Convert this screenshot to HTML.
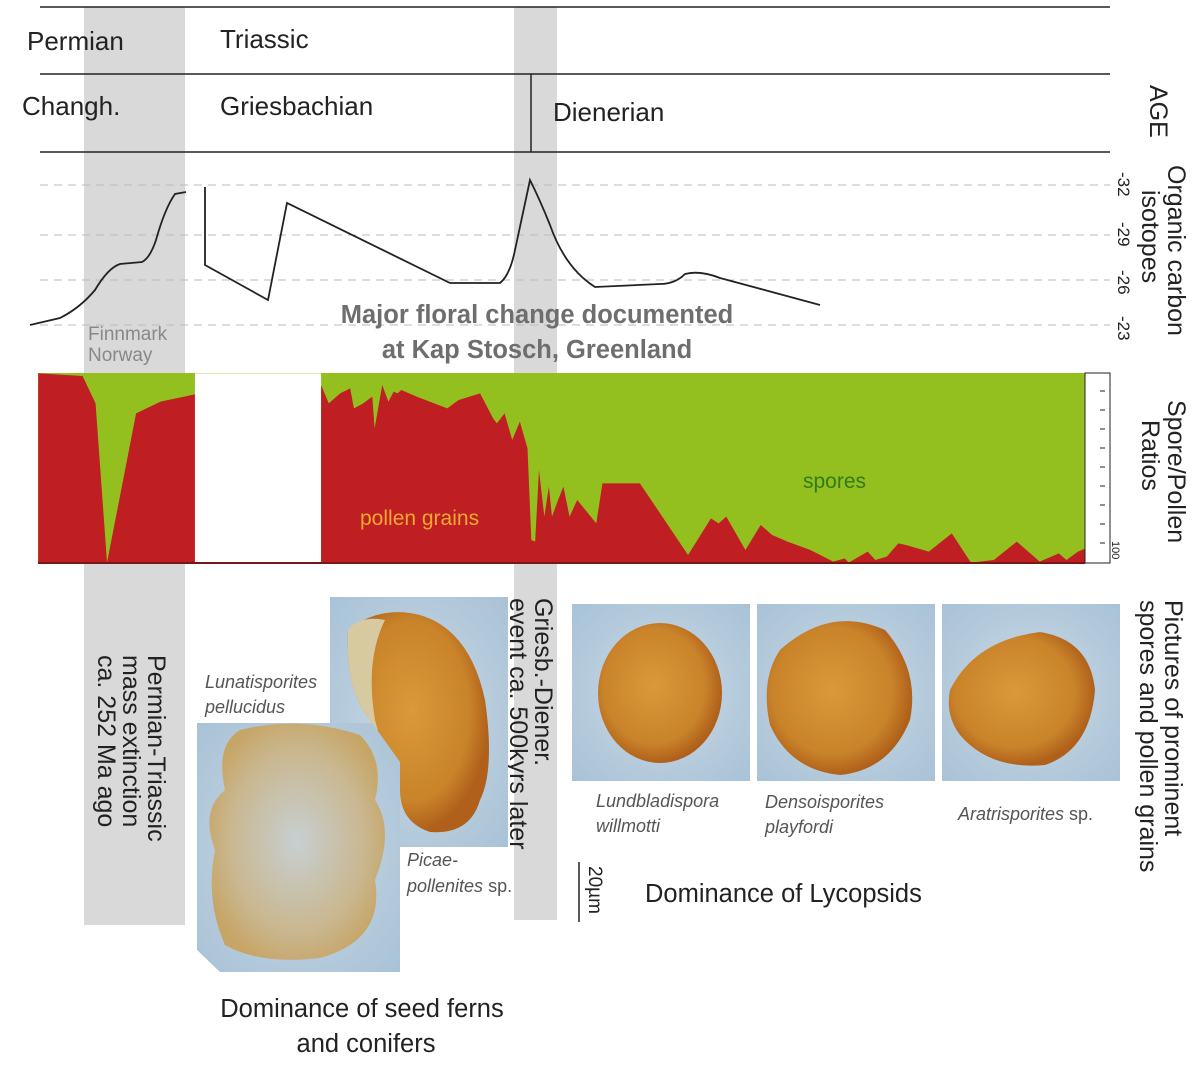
<!DOCTYPE html>
<html><head><meta charset="utf-8"><style>
html,body{margin:0;padding:0;background:#fff;}
svg{display:block;font-family:"Liberation Sans",sans-serif;}
</style></head><body>
<svg width="1200" height="1067" viewBox="0 0 1200 1067" xmlns="http://www.w3.org/2000/svg">
<defs>
<radialGradient id="bg" cx="50%" cy="50%" r="70%"><stop offset="0" stop-color="#c9dae6"/><stop offset="1" stop-color="#a9c2d6"/></radialGradient>
<radialGradient id="or" cx="45%" cy="45%" r="55%"><stop offset="0" stop-color="#d99a3a"/><stop offset="0.75" stop-color="#c9832a"/><stop offset="1" stop-color="#b0601a"/></radialGradient>
<radialGradient id="pl" cx="50%" cy="50%" r="55%"><stop offset="0" stop-color="#c8cfd2"/><stop offset="0.7" stop-color="#c9b78f"/><stop offset="1" stop-color="#c7a566"/></radialGradient>
</defs>
<rect x="84" y="7" width="101" height="918" fill="#d9d9d9"/>
<rect x="514" y="7" width="43" height="913" fill="#d9d9d9"/>
<g stroke="#222" stroke-width="1.5">
<line x1="40" y1="7" x2="1110" y2="7"/>
<line x1="40" y1="74" x2="1110" y2="74"/>
<line x1="40" y1="152" x2="1110" y2="152"/>
<line x1="531" y1="74" x2="531" y2="152"/>
</g>
<g font-size="26" fill="#222">
<text x="27" y="50">Permian</text>
<text x="220" y="48">Triassic</text>
<text x="22" y="115">Changh.</text>
<text x="220" y="115">Griesbachian</text>
<text x="553" y="121">Dienerian</text>
</g>
<text transform="translate(1150,85) rotate(90)" font-size="25" fill="#222">AGE</text>
<g stroke="#bbb" stroke-width="1" stroke-dasharray="8,6">
<line x1="40" y1="185" x2="1110" y2="185"/>
<line x1="40" y1="235" x2="1110" y2="235"/>
<line x1="40" y1="280" x2="1110" y2="280"/>
<line x1="40" y1="325" x2="1110" y2="325"/>
</g>
<g font-size="17" fill="#222">
<text transform="translate(1118,172) rotate(90)">-32</text>
<text transform="translate(1118,222) rotate(90)">-29</text>
<text transform="translate(1118,270) rotate(90)">-26</text>
<text transform="translate(1118,316) rotate(90)">-23</text>
</g>
<text transform="translate(1168,165) rotate(90)" font-size="25" fill="#222">Organic carbon</text>
<text transform="translate(1142,190) rotate(90)" font-size="25" fill="#222">isotopes</text>
<g fill="none" stroke="#222" stroke-width="1.8">
<path d="M30,325 L60,318 Q80,308 95,290 Q108,268 120,264 L142,262 Q150,258 156,240 Q165,208 175,194 L186,192"/>
<path d="M205,187 L205,265 L268,300 L287,203 L450,283 L500,283 Q510,275 515,250 L530,180 Q540,200 550,225 Q565,268 595,287 L660,284 Q675,284 685,274 Q700,270 720,278 L820,305"/>
</g>
<text x="88" y="340" font-size="19" fill="#888">Finnmark</text>
<text x="88" y="361" font-size="19" fill="#888">Norway</text>
<text x="537" y="323" font-size="25.5" font-weight="bold" fill="#6e6e6e" text-anchor="middle">Major floral change documented</text>
<text x="537" y="358" font-size="25.5" font-weight="bold" fill="#6e6e6e" text-anchor="middle">at Kap Stosch, Greenland</text>
<rect x="38" y="373" width="1047" height="190" fill="#93c01f"/>
<g transform="translate(0,360) scale(0.7645,0.3333)">
<polygon fill="#bf1e22" points="50,40 108,48 125,130 140,608 178,160 210,125 255,103 255,608 50,608"/>
<rect x="255" y="40" width="165" height="568" fill="#fff"/>
<polygon fill="#bf1e22" points="420,75 430,130 445,100 458,85 463,145 475,130 487,110 490,205 500,75 508,125 515,95 520,100 525,90 545,110 585,145 600,120 628,100 645,175 650,190 660,160 670,240 680,185 690,265 695,540 700,545 705,330 712,470 718,380 722,470 730,420 737,380 745,470 755,420 780,490 788,370 837,370 900,585 930,475 940,490 950,470 975,570 995,495 1010,525 1030,545 1060,570 1090,605 1105,595 1110,608 1135,575 1145,600 1160,590 1175,550 1185,555 1215,575 1245,520 1270,608 1300,600 1330,545 1360,605 1385,580 1395,600 1410,575 1420,565 1420,608 420,608"/>
</g>
<line x1="38" y1="563" x2="1085" y2="563" stroke="#7a1518" stroke-width="2"/>
<rect x="1085" y="373" width="25" height="190" fill="#fff" stroke="#222" stroke-width="1"/>
<g stroke="#222" stroke-width="1">
<line x1="1100" y1="391" x2="1105" y2="391"/><line x1="1100" y1="410" x2="1105" y2="410"/><line x1="1100" y1="429" x2="1105" y2="429"/><line x1="1100" y1="448" x2="1105" y2="448"/><line x1="1100" y1="467" x2="1105" y2="467"/><line x1="1100" y1="486" x2="1105" y2="486"/><line x1="1100" y1="505" x2="1105" y2="505"/><line x1="1100" y1="524" x2="1105" y2="524"/><line x1="1100" y1="543" x2="1105" y2="543"/>
</g>
<text transform="translate(1112,541) rotate(90)" font-size="11" fill="#222">100</text>
<text x="360" y="525" font-size="21" fill="#f0a830">pollen grains</text>
<text x="803" y="488" font-size="21" fill="#2e7d1a">spores</text>
<text transform="translate(1168,400) rotate(90)" font-size="25" fill="#222">Spore/Pollen</text>
<text transform="translate(1142,420) rotate(90)" font-size="25" fill="#222">Ratios</text>
<g font-size="25" fill="#222">
<text transform="translate(148,655) rotate(90)">Permian-Triassic</text>
<text transform="translate(123,655) rotate(90)">mass extinction</text>
<text transform="translate(98,655) rotate(90)">ca. 252 Ma ago</text>
<text transform="translate(535,598) rotate(90)">Griesb.-Diener.</text>
<text transform="translate(510,598) rotate(90)">event  ca. 500kyrs later</text>
<text transform="translate(1165,600) rotate(90)">Pictures of prominent</text>
<text transform="translate(1140,600) rotate(90)">spores and pollen grains</text>
</g>
<rect x="330" y="597" width="178" height="250" fill="url(#bg)"/>
<path d="M348,630 Q380,605 420,615 Q470,630 485,700 Q495,770 480,800 Q470,835 430,832 Q400,822 400,790 Q385,760 370,720 Q345,690 348,630Z" fill="url(#or)"/>
<path d="M348,630 Q360,615 385,620 Q365,660 375,720 Q385,760 400,790 Q385,780 370,720 Q345,690 348,630Z" fill="#d7c9a0"/>
<polygon points="197,723 372,723 400,762 400,972 220,972 197,950" fill="url(#bg)"/>
<path d="M240,730 Q300,715 360,735 Q385,760 375,800 Q395,830 375,880 Q385,940 320,958 Q260,965 225,945 Q205,900 215,850 Q200,810 225,790 Q215,745 240,730Z" fill="url(#pl)"/>
<rect x="572" y="604" width="178" height="177" fill="url(#bg)"/>
<ellipse cx="660" cy="693" rx="62" ry="70" fill="url(#or)"/>
<rect x="757" y="604" width="178" height="177" fill="url(#bg)"/>
<path d="M780,650 Q830,605 885,630 Q920,670 910,720 Q890,770 840,775 Q790,770 770,725 Q760,680 780,650Z" fill="url(#or)"/>
<rect x="942" y="604" width="178" height="177" fill="url(#bg)"/>
<path d="M950,690 Q975,640 1040,632 Q1090,640 1095,690 Q1090,750 1045,765 Q990,770 960,735 Q945,715 950,690Z" fill="url(#or)"/>
<g font-size="18" font-style="italic" fill="#555">
<text x="205" y="688">Lunatisporites</text>
<text x="205" y="713">pellucidus</text>
<text x="407" y="866">Picae-</text>
<text x="407" y="892">pollenites <tspan font-style="normal">sp.</tspan></text>
<text x="596" y="807">Lundbladispora</text>
<text x="596" y="832">willmotti</text>
<text x="765" y="808">Densoisporites</text>
<text x="765" y="833">playfordi</text>
<text x="958" y="820">Aratrisporites <tspan font-style="normal">sp.</tspan></text>
</g>
<line x1="579" y1="862" x2="579" y2="922" stroke="#222" stroke-width="1.5"/>
<text transform="translate(589,866) rotate(90)" font-size="19" fill="#222">20µm</text>
<text x="645" y="902" font-size="25.5" fill="#222">Dominance of Lycopsids</text>
<text x="362" y="1017" font-size="25.5" fill="#222" text-anchor="middle">Dominance of seed ferns</text>
<text x="366" y="1052" font-size="25.5" fill="#222" text-anchor="middle">and conifers</text>
</svg>
</body></html>
